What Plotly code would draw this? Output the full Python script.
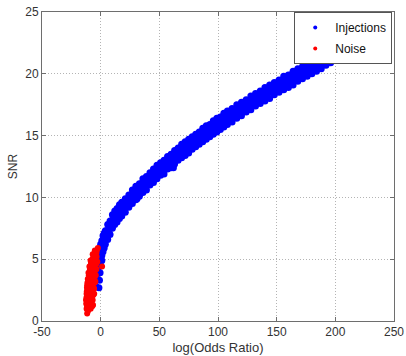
import plotly.graph_objects as go

# Injections: log odds ratio positions with band of SNR values
inj_logodds = [-4, -3, -2, -1, 0, 1, 2, 3, 4, 6, 8, 10, 12, 14, 16, 18, 21, 24, 27, 30,
               33, 36, 39, 42, 45, 48, 51, 54, 57, 60, 63, 66, 69, 72, 75, 78, 81, 84, 87, 90,
               93, 96, 99, 102, 105, 108, 112, 116, 120, 124, 128, 132, 136, 140, 144, 148, 152, 156, 160, 164,
               168, 172, 176, 180, 184, 188, 192, 196, 200]
inj_snr_mid = [3.3, 4.0, 4.6, 5.1, 5.6, 5.9, 6.2, 6.5, 6.8, 7.2, 7.6, 8.1, 8.3, 8.6, 8.8, 9.0, 9.4, 9.7, 10.0, 10.3,
               10.7, 10.9, 11.2, 11.5, 11.7, 12.0, 12.3, 12.5, 12.8, 13.0, 13.2, 13.5, 13.7, 14.0, 14.2, 14.4, 14.6, 14.8, 15.0, 15.2,
               15.5, 15.6, 15.8, 16.1, 16.2, 16.4, 16.7, 16.9, 17.2, 17.4, 17.6, 17.9, 18.1, 18.4, 18.6, 18.8, 19.0, 19.2, 19.5, 19.7,
               19.9, 20.1, 20.3, 20.5, 20.7, 20.9, 21.1, 21.3, 21.5]
inj_snr_low = [2.8, 3.4, 4.0, 4.5, 5.0, 5.3, 5.6, 5.9, 6.2, 6.6, 7.0, 7.5, 7.8, 8.0, 8.3, 8.5, 8.8, 9.2, 9.5, 9.8,
               10.1, 10.4, 10.6, 11.0, 11.2, 11.5, 11.8, 11.9, 12.3, 12.4, 12.7, 13.0, 13.2, 13.4, 13.6, 13.9, 14.1, 14.3, 14.5, 14.7,
               14.9, 15.1, 15.3, 15.5, 15.7, 15.9, 16.1, 16.4, 16.6, 16.9, 17.1, 17.4, 17.6, 17.8, 18.0, 18.3, 18.5, 18.7, 18.9, 19.1,
               19.4, 19.6, 19.8, 20.0, 20.2, 20.4, 20.7, 20.9, 21.1]
inj_snr_high = [3.7, 4.5, 5.2, 5.7, 6.2, 6.5, 6.9, 7.1, 7.3, 7.8, 8.1, 8.6, 8.9, 9.1, 9.4, 9.6, 9.9, 10.2, 10.6, 10.9,
                11.1, 11.5, 11.7, 12.0, 12.3, 12.6, 12.8, 13.0, 13.3, 13.5, 13.8, 14.0, 14.3, 14.5, 14.7, 14.9, 15.1, 15.3, 15.6, 15.8,
                15.9, 16.2, 16.4, 16.5, 16.8, 17.0, 17.2, 17.5, 17.7, 17.9, 18.2, 18.4, 18.6, 18.9, 19.1, 19.3, 19.5, 19.8, 19.9, 20.2,
                20.4, 20.6, 20.8, 21.0, 21.1, 21.3, 21.5, 21.7, 21.8]
# second set of injections, in between the positions above
inj_logodds_b = [-3.5, -2.5, -1.5, -0.5, 0.5, 1.5, 2.5, 3.5, 5, 7, 9, 11, 13, 15, 17,
                 19.5, 22.5, 25.5, 28.5, 31.5, 34.5, 37.5, 40.5, 43.5, 46.5, 49.5, 52.5, 55.5, 58.5, 61.5,
                 64.5, 67.5, 70.5, 73.5, 76.5, 79.5, 82.5, 85.5, 88.5, 91.5, 94.5, 97.5, 100.5, 103.5, 106.5,
                 110, 114, 118, 122, 126, 130, 134, 138, 142, 146, 150, 154, 158, 162, 166, 170, 174, 178, 182,
                 186, 190, 194, 198]
inj_snr_b_low = [3.4, 4.0, 4.6, 5.1, 5.5, 5.8, 6.1, 6.4, 6.7, 7.2,
                 7.6, 7.9, 8.2, 8.4, 8.7, 8.9, 9.3, 9.6, 9.9, 10.2,
                 10.6, 10.8, 11.1, 11.3, 11.6, 11.9, 12.1, 12.4, 12.7, 12.8,
                 13.1, 13.4, 13.6, 13.8, 14.1, 14.2, 14.5, 14.6, 14.9, 15.1,
                 15.3, 15.4, 15.7, 15.9, 16.1, 16.3, 16.5, 16.8, 17.0, 17.3,
                 17.5, 17.7, 18.0, 18.2, 18.5, 18.6, 18.9, 19.1, 19.3, 19.6,
                 19.7, 20.0, 20.1, 20.4, 20.5, 20.8, 20.9, 21.2]
inj_snr_b_high = [3.9, 4.6, 5.1, 5.6, 6.0, 6.3, 6.7, 6.9, 7.3, 7.7,
                  8.1, 8.5, 8.7, 9.0, 9.2, 9.5, 9.8, 10.1, 10.5, 10.8,
                  11.1, 11.3, 11.6, 11.9, 12.2, 12.4, 12.7, 12.9, 13.2, 13.4,
                  13.6, 13.9, 14.1, 14.4, 14.6, 14.8, 15.0, 15.2, 15.4, 15.6,
                  15.8, 16.0, 16.2, 16.4, 16.6, 16.8, 17.1, 17.3, 17.6, 17.8,
                  18.0, 18.3, 18.5, 18.8, 19.0, 19.2, 19.4, 19.6, 19.9, 20.1,
                  20.3, 20.5, 20.7, 20.9, 21.1, 21.3, 21.5, 21.6]
# a few isolated injection points
inj_extra_logodds = [-1.5, -1.0, -0.5, 0.0, 1.0, 203, 204, 62, 31]
inj_extra_snr = [2.7, 3.3, 3.9, 4.5, 4.9, 21.5, 21.3, 12.4, 9.9]

# Noise points
noise_logodds = [-11.5, -10.8, -12.0, -10.2, -8.5, -12.3, -11.0, -9.6, -7.8, -6.5,
                 -12.1, -10.5, -9.0, -7.4, -6.2, -11.8, -10.0, -8.6, -7.0, -5.6,
                 -11.5, -9.8, -8.2, -6.6, -5.2, -11.0, -9.4, -7.8, -6.2, -4.8,
                 -10.4, -8.9, -7.3, -5.8, -4.4, -9.6, -8.2, -6.7, -5.2, -3.9,
                 -8.6, -7.1, -5.6, -4.3, -6.8, -5.2, -3.6, -2.4, 1.2, -2.8,
                 -10.6, -9.2, -8.0, -11.3,
                 -11.6, -10.0, -8.8, -7.2, -12.5, -11.2, -9.8, -8.3, -6.8,
                 -12.0, -10.9, -9.5, -8.0, -6.6, -5.5, -11.7, -10.4, -8.9, -7.6, -6.0,
                 -10.5, -9.0, -7.3, -5.8, -4.5, -10.1, -8.4, -7.0, -5.4, -4.2,
                 -9.2, -7.8, -6.3, -4.9, -3.6, -8.3, -6.9, -5.5, -4.0,
                 -6.2, -4.9, -3.4, -5.0, -3.3, -11.2]
noise_snr = [0.6, 0.8, 1.0, 1.1, 1.0, 1.4, 1.5, 1.4, 1.5, 1.3,
             1.9, 1.9, 2.0, 1.9, 2.1, 2.4, 2.4, 2.5, 2.5, 2.6,
             2.9, 2.9, 3.0, 3.0, 3.1, 3.4, 3.4, 3.5, 3.5, 3.6,
             3.9, 3.9, 4.0, 4.0, 4.1, 4.4, 4.4, 4.5, 4.5, 4.6,
             4.9, 5.0, 5.0, 5.1, 5.4, 5.5, 5.5, 5.9, 4.4, 4.8,
             2.1, 2.7, 1.2, 3.1,
             1.2, 1.2, 1.2, 1.2, 1.7, 1.7, 1.7, 1.7, 1.7,
             2.2, 2.2, 2.2, 2.2, 2.2, 2.2, 2.7, 2.7, 2.7, 2.7, 2.7,
             3.2, 3.2, 3.2, 3.2, 3.2, 3.7, 3.7, 3.7, 3.7, 3.7,
             4.2, 4.2, 4.2, 4.2, 4.2, 4.7, 4.7, 4.7, 4.7,
             5.2, 5.2, 5.2, 5.7, 5.7, 0.9]

series_names = ["Injections", "Noise"]
series_colors = ["#0000ff", "#ff0000"]

x_ticks = [-50, 0, 50, 100, 150, 200, 250]
y_ticks = [0, 5, 10, 15, 20, 25]

inj_x = inj_logodds * 3 + inj_logodds_b * 2 + inj_extra_logodds
inj_y = inj_snr_low + inj_snr_mid + inj_snr_high + inj_snr_b_low + inj_snr_b_high + inj_extra_snr

FONT = "Liberation Sans, Arial, Helvetica, sans-serif"

fig = go.Figure()
fig.add_trace(go.Scatter(x=inj_x, y=inj_y, mode="markers", name=series_names[0],
                         legendgroup="inj", showlegend=False,
                         marker=dict(color=series_colors[0], size=7, line=dict(width=0))))
fig.add_trace(go.Scatter(x=noise_logodds, y=noise_snr, mode="markers", name=series_names[1],
                         legendgroup="noise", showlegend=False,
                         marker=dict(color=series_colors[1], size=6, line=dict(width=0))))
# legend entries with small dot symbols (no data)
for name, color, grp in zip(series_names, series_colors, ["inj", "noise"]):
    fig.add_trace(go.Scatter(x=[None], y=[None], mode="markers", name=name, legendgroup=grp,
                             marker=dict(color=color, size=4, line=dict(width=0))))

axis_common = dict(showline=True, linecolor="#6e6e6e", linewidth=1, mirror="ticks",
                   ticks="inside", ticklen=4, tickcolor="#6e6e6e",
                   showgrid=True, gridcolor="#b4b4b4", griddash="1px,2px", gridwidth=1,
                   zeroline=False, tickfont=dict(size=12, color="#333333", family=FONT))

fig.update_xaxes(range=[-50, 250], tickvals=x_ticks, ticktext=[str(v) for v in x_ticks],
                 title=dict(text="log(Odds Ratio)", font=dict(size=13, color="#333333", family=FONT), standoff=4),
                 **axis_common)
fig.update_yaxes(range=[0, 25], tickvals=y_ticks, ticktext=[str(v) for v in y_ticks],
                 title=dict(text="SNR", font=dict(size=12, color="#333333", family=FONT), standoff=5),
                 **axis_common)

fig.update_layout(width=406, height=356, margin=dict(l=42, r=12, t=12, b=35, autoexpand=False),
                  paper_bgcolor="white", plot_bgcolor="white",
                  font=dict(family=FONT, size=12, color="#222222"),
                  legend=dict(x=0.995, y=1.0, xanchor="right", yanchor="top",
                              bgcolor="white", bordercolor="#555555", borderwidth=1,
                              font=dict(size=12, color="#111111", family=FONT),
                              itemwidth=30, tracegroupgap=2),
                  showlegend=True)

fig.write_html("out.html", config={"displayModeBar": False},
               post_script="document.body.style.margin='0';document.body.style.overflow='hidden';")
